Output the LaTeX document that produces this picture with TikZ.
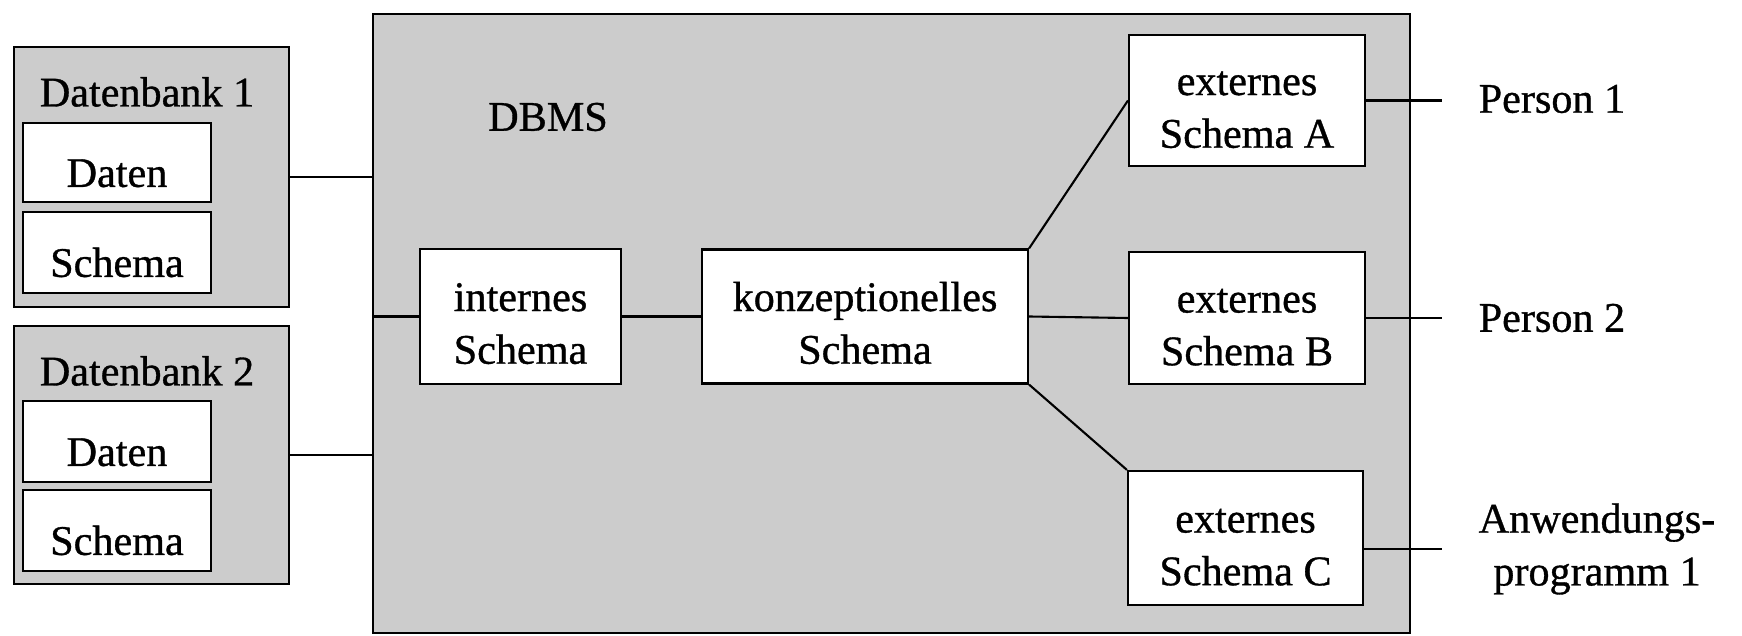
\documentclass[tikz,border=0pt]{standalone}
\usepackage{fontspec}
\setmainfont{Liberation Serif}[FakeBold=0.8]

\begin{document}
\begin{tikzpicture}[
  box/.style={draw,line width=.6pt,fill=white,align=center,inner sep=0pt,font=\fontsize{12}{15}\selectfont,
    text height=14pt},
  schema/.style={box,text height=27pt},
  area/.style={draw,line width=.6pt,fill=black!20,inner sep=0pt},
  lbl/.style={inner sep=0pt,align=center,font=\fontsize{12}{15}\selectfont},
  con/.style={line width=.6pt}]
\useasboundingbox (0,0) rectangle (17.42,6.35);
% DBMS with its schemas
\node[area,minimum width=103.7mm,minimum height=61.9mm] (dbms) at (8.915,3.115) {};
\node[lbl] (dbmslbl) at (5.48,5.18) {DBMS};
\node[schema,minimum width=20.1mm,minimum height=13.5mm] (intern) at (5.205,3.185) {internes\\Schema};
\node[schema,minimum width=32.6mm,minimum height=13.4mm] (konz) at (8.65,3.185) {konzeptionelles\\Schema};
\node[schema,minimum width=23.6mm,minimum height=13.1mm] (extA) at (12.47,5.345) {externes\\Schema A};
\node[schema,minimum width=23.6mm,minimum height=13.2mm] (extB) at (12.47,3.17) {externes\\Schema B};
\node[schema,minimum width=23.5mm,minimum height=13.4mm] (extC) at (12.455,0.97) {externes\\Schema C};
% databases
\node[area,minimum width=27.5mm,minimum height=26mm] (db1) at (1.515,4.58) {};
\node[lbl] (db1lbl) at (1.47,5.43) {Datenbank 1};
\node[box,minimum width=18.8mm,minimum height=7.9mm] (daten1) at (1.17,4.725) {Daten};
\node[box,minimum width=18.8mm,minimum height=8.1mm] (schema1) at (1.17,3.825) {Schema};
\node[area,minimum width=27.5mm,minimum height=25.8mm] (db2) at (1.515,1.80) {};
\node[lbl] (db2lbl) at (1.47,2.64) {Datenbank 2};
\node[box,minimum width=18.8mm,minimum height=8.1mm] (daten2) at (1.17,1.935) {Daten};
\node[box,minimum width=18.8mm,minimum height=8.1mm] (schema2) at (1.17,1.045) {Schema};
% users
\node[lbl,anchor=west] (pers1) at (14.78,5.36) {Person 1};
\node[lbl,anchor=west] (pers2) at (14.78,3.17) {Person 2};
\node[lbl,anchor=west] (anw) at (14.78,0.86) {Anwendungs-\\programm 1};
% connections
\draw[con] (db1.east) -- (db1.east -| dbms.west);
\draw[con] (db2.east) -- (db2.east -| dbms.west);
\draw[con] (intern.west -| dbms.west) -- (intern.west);
\draw[con] (intern.east) -- (konz.west);
\draw[con] (konz.north east) -- (extA.west);
\draw[con] (konz.east) -- (extB.west);
\draw[con] (konz.south east) -- (extC.north west);
\draw[con] (extA.east) -- ([xshift=-3.6mm]extA.east -| pers1.west);
\draw[con] (extB.east) -- ([xshift=-3.6mm]extB.east -| pers2.west);
\draw[con] (anw.west -| extC.east) -- ([xshift=-3.6mm]anw.west);
\end{tikzpicture}
\end{document}
